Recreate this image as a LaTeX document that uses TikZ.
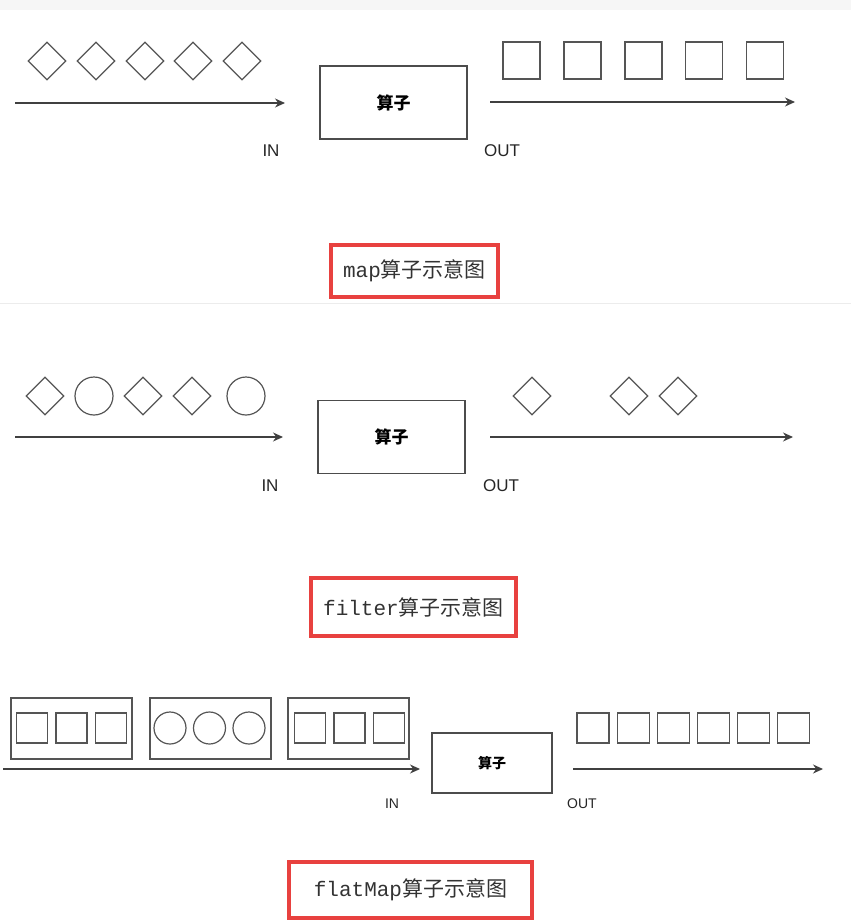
\documentclass[tikz,border=0pt]{standalone}
\usepackage{fontspec}
\setmainfont{Liberation Sans}
\setmonofont{Liberation Mono}
\newfontfamily\cjk{Noto Sans CJK SC}
\usepackage{tikz}
\usetikzlibrary{arrows.meta,positioning,shapes.geometric}
\definecolor{mark}{HTML}{E8413F}
\definecolor{ink}{HTML}{555555}

\begin{document}
\begin{tikzpicture}[
  x=1pt, y=-1pt,
  shp/.style={draw=ink, line width=1.2pt, inner sep=0pt},
  dia/.style={shp, diamond, minimum width=38pt, minimum height=38pt},
  sq/.style={shp, minimum width=37pt, minimum height=37pt},
  sqs/.style={shp, minimum width=31pt, minimum height=30pt},
  ring/.style={shp, circle, minimum size=38pt},
  rings/.style={shp, circle, minimum size=32pt},
  group/.style={shp, minimum width=121pt, minimum height=61pt},
  opbox/.style={draw=black!70, line width=1.2pt, minimum width=147pt, minimum height=73pt, font=\cjk\bfseries\fontsize{17}{17}\selectfont},
  flow/.style={-{Stealth[length=10pt,width=9pt]}, black!75, line width=1.2pt},
  lbl/.style={text=black!85, font=\fontsize{17}{17}\selectfont},
  capbox/.style={draw=mark, line width=3.5pt, text=black!80, font=\cjk\fontsize{21}{21}\selectfont}]
\useasboundingbox (0,0) rectangle (851,921);
\fill[gray!7] (0,0) rectangle (851,10);
\draw[gray!15, line width=1pt] (0,303) -- (851,303);
% map
\foreach \x [count=\i] in {47,96,145,193,242} \node[dia] (m\i) at (\x,61) {};
\node[opbox] (mop) at (393.5,102.5) {算子};
\foreach \x [count=\i] in {521.5,582.5,643.5,704,765} \node[sq] (mo\i) at (\x,60.5) {};
\coordinate (min0) at (15,103);  \coordinate (min1) at (285,103);
\coordinate (mout0) at (490,102); \coordinate (mout1) at (795,102);
\draw[flow] (min0) -- (min1);
\draw[flow] (mout0) -- (mout1);
\node[lbl] (min) at (271,151) {IN};
\node[lbl] (mout) at (502,151) {OUT};
\node[capbox, minimum width=167pt, minimum height=52pt] (mcap) at (414.5,271) {{\ttfamily map}算子示意图};
% filter
\node[dia]  (f1) at (45,396) {};
\node[ring] (f2) at (94,396) {};
\node[dia]  (f3) at (143,396) {};
\node[dia]  (f4) at (192,396) {};
\node[ring] (f5) at (246,396) {};
\node[opbox] (fop) at (391.5,437) {算子};
\foreach \x [count=\i] in {532,629,678} \node[dia] (fo\i) at (\x,396) {};
\coordinate (fin0) at (15,437);  \coordinate (fin1) at (283,437);
\coordinate (fout0) at (490,437); \coordinate (fout1) at (793,437);
\draw[flow] (fin0) -- (fin1);
\draw[flow] (fout0) -- (fout1);
\node[lbl] (fin) at (270,486) {IN};
\node[lbl] (fout) at (501,486) {OUT};
\node[capbox, minimum width=205pt, minimum height=58pt] (fcap) at (413.5,607) {{\ttfamily filter}算子示意图};
% flatMap
\node[group] (g1) at (71.5,728.5) {};
\node[group] (g2) at (210.5,728.5) {};
\node[group] (g3) at (348.5,728.5) {};
\foreach \d [count=\i] in {-39.5,0,39.5} {
  \node[sqs]   (ga\i) at (71.5+\d,728) {};
  \node[rings] (gb\i) at (209.5+\d,728) {};
  \node[sqs]   (gc\i) at (349.5+\d,728) {};
}
\node[opbox, minimum width=120pt, minimum height=60pt, font=\cjk\bfseries\fontsize{14}{14}\selectfont] (pop) at (492,763) {算子};
\foreach \i in {1,...,6} \node[sqs, minimum width=32pt] (po\i) at (593+40.1*\i-40.1,728) {};
\coordinate (pin0) at (3,769);  \coordinate (pin1) at (420,769);
\coordinate (pout0) at (573,769); \coordinate (pout1) at (823,769);
\draw[flow] (pin0) -- (pin1);
\draw[flow] (pout0) -- (pout1);
\node[lbl, font=\fontsize{14}{14}\selectfont] (pin) at (392,804) {IN};
\node[lbl, font=\fontsize{14}{14}\selectfont] (pout) at (582,804) {OUT};
\node[capbox, minimum width=243pt, minimum height=56pt] (pcap) at (410.5,890) {{\ttfamily flatMap}算子示意图};
\end{tikzpicture}
\end{document}
